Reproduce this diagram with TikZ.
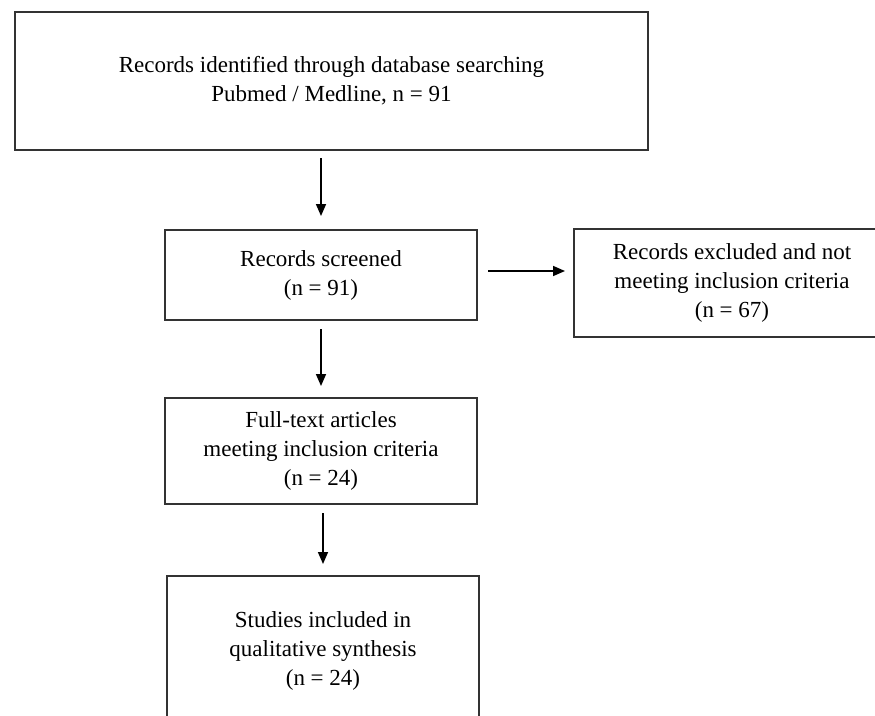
\documentclass[tikz,border=0pt]{standalone}
\usepackage{fontspec}
\setmainfont{Liberation Serif}
\usetikzlibrary{arrows.meta, positioning}
\tikzstyle{rect_box} = [rectangle, draw=black!80, line width=2pt, text centered, align=center, font=\fontsize{23}{29}\selectfont]
\tikzstyle{arrow} = [line width=1.6pt, -{Triangle[length=12pt, width=10pt]}]

\begin{document}
\begin{tikzpicture}[x=1pt, y=-1pt]
\useasboundingbox (0,0) rectangle (875,715);

\node[rect_box, minimum width=633pt, minimum height=138pt] (identified) at (331.5,81) {Records identified through database searching\\Pubmed / Medline, n = 91};
\node[rect_box, minimum width=312pt, minimum height=90pt] (screened) at (321,275) {Records screened\\(n = 91)};
\node[rect_box, minimum width=316pt, minimum height=108pt] (excluded) at (732,283) {Records excluded and not\\meeting inclusion criteria\\(n = 67)};
\node[rect_box, minimum width=312pt, minimum height=106pt] (fulltext) at (321,451) {Full-text articles\\meeting inclusion criteria\\(n = 24)};
\node[rect_box, minimum width=312pt, minimum height=150pt] (studies) at (323,651) {Studies included in\\qualitative synthesis\\(n = 24)}; % bottom edge lies below the page

\draw[arrow, shorten <=7pt, shorten >=13pt] (identified.south -| screened.north) -- (screened.north);
\draw[arrow, shorten <=10pt, shorten >=8pt] ([yshift=4pt]screened.east) -- ([yshift=4pt]screened.east -| excluded.west);
\draw[arrow, shorten <=8pt, shorten >=11pt] (screened) -- (fulltext);
\draw[arrow, shorten <=8pt, shorten >=11pt] (fulltext.south -| studies.north) -- (studies.north);

\end{tikzpicture}
\end{document}
